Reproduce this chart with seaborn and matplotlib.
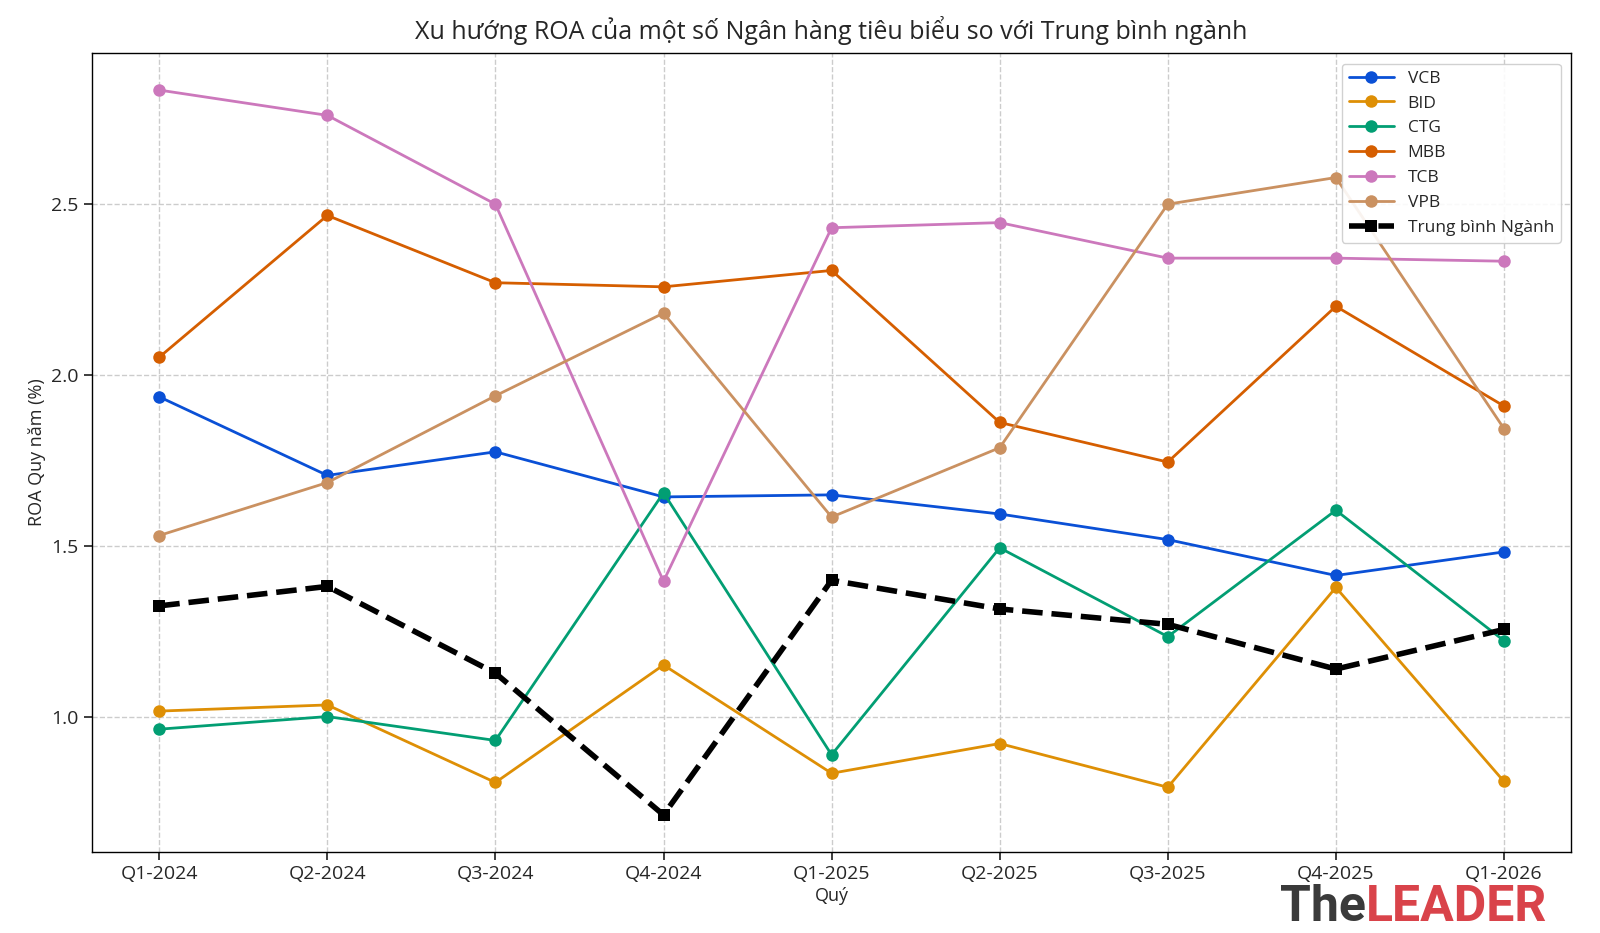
import matplotlib
matplotlib.use("Agg")
import matplotlib.pyplot as plt
import seaborn as sns
import pandas as pd

quarters = ["Q1-2024", "Q2-2024", "Q3-2024", "Q4-2024", "Q1-2025",
            "Q2-2025", "Q3-2025", "Q4-2025", "Q1-2026"]
vcb = [1.936, 1.706, 1.775, 1.643, 1.649, 1.593, 1.518, 1.413, 1.482]
bid = [1.016, 1.034, 0.807, 1.151, 0.834, 0.921, 0.793, 1.378, 0.810]
ctg = [0.963, 1.000, 0.930, 1.655, 0.888, 1.494, 1.234, 1.604, 1.222]
mbb = [2.052, 2.467, 2.270, 2.258, 2.306, 1.861, 1.745, 2.201, 1.909]
tcb = [2.834, 2.760, 2.500, 1.396, 2.431, 2.446, 2.342, 2.342, 2.333]
vpb = [1.530, 1.685, 1.939, 2.181, 1.584, 1.787, 2.500, 2.578, 1.843]
avg = [1.324, 1.381, 1.127, 0.712, 1.399, 1.315, 1.270, 1.139, 1.255]

banks = ["VCB", "BID", "CTG", "MBB", "TCB", "VPB"]
series = [vcb, bid, ctg, mbb, tcb, vpb]
colors = ["#0a50d6", "#de8f05", "#029e73", "#d55e00", "#cc78bc", "#ca9161"]

sns.set_theme(style="ticks")
plt.rcParams['font.family'] = ['Open Sans', 'DejaVu Sans']

fig = plt.figure(figsize=(16, 9.33), dpi=100)
ax = fig.add_axes([0.0575, 0.087, 0.9245, 0.856])

rows = []
for b, vals in zip(banks, series):
    for i, (q, v) in enumerate(zip(quarters, vals)):
        rows.append({"idx": i, "ROA": v, "Bank": b})
df = pd.DataFrame(rows)

sns.lineplot(data=df, x="idx", y="ROA", hue="Bank", hue_order=banks,
             palette=colors, marker="o", markersize=9, linewidth=2,
             markeredgewidth=0, ax=ax)
adf = pd.DataFrame({"idx": range(len(quarters)), "ROA": avg})
sns.lineplot(data=adf, x="idx", y="ROA", color="black", linestyle="--",
             linewidth=4, marker="s", markersize=9, markeredgewidth=0,
             label="Trung bình Ngành", ax=ax)

ax.set_xticks(range(len(quarters)))
ax.set_xticklabels(quarters, fontsize=14)
ax.set_yticks([1.0, 1.5, 2.0, 2.5])
ax.set_yticklabels(["1.0", "1.5", "2.0", "2.5"], fontsize=14)
ax.set_xlim(-0.4, 8.4)
ax.set_ylim(0.604, 2.942)
ax.grid(True, linestyle="--", color="#cccccc", linewidth=1)
for s in ax.spines.values():
    s.set_color("black")
    s.set_linewidth(1)
ax.set_xlabel("Quý", fontsize=13, labelpad=3)
ax.set_ylabel("ROA Quy năm (%)", fontsize=13)
ax.set_title("Xu hướng ROA của một số Ngân hàng tiêu biểu so với Trung bình ngành",
             fontsize=18, pad=10)
leg = ax.legend(loc="upper right", fontsize=12.5, frameon=True, framealpha=0.9,
                handlelength=2.6, borderaxespad=0.6, labelspacing=0.5)

t1 = fig.text(0.80, 0.013, "The", color="#3a3a3a", fontsize=36, fontweight="bold",
              family="Roboto", ha="left", va="baseline")
fig.canvas.draw()
bb = t1.get_window_extent(renderer=fig.canvas.get_renderer())
x2 = bb.x1 / fig.bbox.width
fig.text(x2, 0.013, "LEADER", color="#d9434a", fontsize=36, fontweight="bold",
         family="Roboto", ha="left", va="baseline")

fig.savefig("out.png", dpi=100)
